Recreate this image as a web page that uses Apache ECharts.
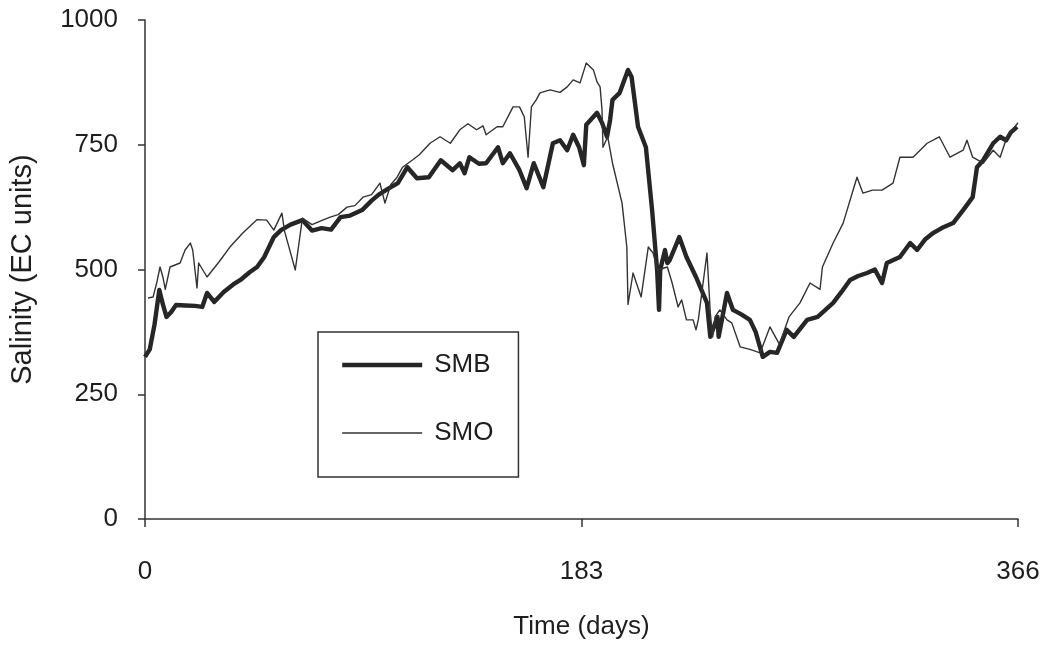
<!DOCTYPE html>
<html>
<head>
<meta charset="utf-8">
<script src="https://cdn.jsdelivr.net/npm/echarts@6/dist/echarts.min.js"></script>
<style>html,body{margin:0;padding:0;background:#fff;}#c{width:1051px;height:647px;}</style>
</head>
<body>
<div id="c"></div>
<script>
var xTicks = [0, 183, 366];
var yTicks = [0, 250, 500, 750, 1000];
var seriesNames = ['SMB', 'SMO'];

var smbDays = [0,2,4,6,7.5,9,11,13,17,21,24,26,29,33,37,40,44,47,50,54,57,61,66,70,74,78,82,86,91,95,98,102,106,110,114,119,124,129,132,134,136,140,143,148,150,153,157,160,163,167,171,174,177,179.5,182,184,185,189.5,191.6,193.7,195,196,199,202.5,204,206.7,210,212.6,214.7,215.5,216,218,219,220,224,227,231,235.6,237,240,240.5,244,246.5,250,253.6,256,259,262,265,269,272,277.6,282,288.5,292,295.6,299,302.7,306,309,311,316.5,320.8,323.7,327,330.4,334,338.8,343,347,348.8,351.4,355.6,358.5,361,363,365.6];
var smbValues = [325,340,390,459,430,405,415,429,428,427,425,453,435,455,470,479,495,505,525,565,579,590,599,578,583,580,605,608,619,638,650,662,673,705,683,685,719,699,713,693,725,712,713,745,713,733,699,663,713,665,753,759,739,770,745,709,790,814,794,766,800,840,854,900,886,786,745,619,499,419,499,539,513,519,565,525,485,433,365,405,365,453,419,410,399,375,325,335,333,379,365,399,405,433,455,479,487,493,500,473,513,525,553,539,560,573,583,593,619,645,705,719,753,766,759,775,786];

var smoDays = [1.3,3.4,5,6.3,7.5,8.5,10.5,14.7,16.8,19,20,21.8,22.5,26,31,35.6,41,47,51,54,57.4,58.5,63,66,70,74,77.6,81,84.7,88,91.4,95,98.5,100.6,103,105.7,108,112,115,119.5,123.7,128,132,135.4,139,141.7,143,147.6,150,154.3,157,159,160.6,162,164,165.6,169.8,174,177,179.5,182.4,185,188,189.5,190.8,191.6,192,194,196,200,202,202.5,204.6,208,211,213,215,219,221,223.5,225,227,229.8,231,232,235.6,237,238,239,241,244,246,249.5,253.6,257.9,262,266,270,274.6,278.8,283,284,288.5,292.7,298.5,301,305,309,313.6,316.5,322,327.9,333,337.5,343,344.6,347,351.4,355.6,358.5,361.4,366];
var smoValues = [443,445,475,505,485,460,505,513,539,553,539,463,513,485,515,545,573,600,599,579,613,577,499,603,590,598,605,610,625,628,645,650,673,633,670,685,705,719,730,753,766,753,780,792,780,788,770,786,786,826,826,806,725,826,840,854,860,855,866,880,874,914,900,876,866,820,745,766,713,633,545,430,493,445,545,533,499,505,473,425,439,399,399,379,400,533,413,365,405,419,399,393,345,340,333,385,350,405,433,473,460,505,553,593,685,653,659,659,673,725,725,753,766,725,739,759,725,713,739,725,766,794];

function pairs(d, v) { var o = []; for (var i = 0; i < d.length; i++) o.push([d[i], v[i]]); return o; }

var FONT = 'Liberation Sans, Arial, Helvetica, sans-serif';
var TXT = '#1e1e1e';
var AX = '#333';
var LINE_THICK = 4.4, LINE_THIN = 1.4;
function plain(v) { return String(v); }

var chart = echarts.init(document.getElementById('c'), null, {renderer: 'canvas'});
chart.setOption({
  animation: false,
  backgroundColor: '#fff',
  grid: {left: 145, right: 33, top: 20, bottom: 128, containLabel: false},
  legend: {
    orient: 'vertical', left: 318, top: 332,
    data: [
      {name: seriesNames[0], lineStyle: {width: LINE_THICK, color: '#262626'}},
      {name: seriesNames[1], lineStyle: {width: LINE_THIN, color: '#333'}}
    ],
    itemWidth: 80, itemHeight: 20, itemGap: 42,
    padding: [20, 25, 31, 22],
    borderColor: '#333', borderWidth: 1.5, borderRadius: 0,
    itemStyle: {opacity: 0, borderWidth: 0},
    textStyle: {fontSize: 26, color: TXT, fontFamily: FONT, padding: [0, 0, 0, 7]}
  },
  xAxis: {
    type: 'value', min: xTicks[0], max: xTicks[2], interval: xTicks[1] - xTicks[0],
    position: 'bottom',
    name: 'Time (days)', nameLocation: 'middle', nameGap: 95,
    nameTextStyle: {fontSize: 26, color: TXT, fontFamily: FONT},
    axisLine: {show: true, onZero: false, lineStyle: {color: AX, width: 1.5}},
    axisTick: {show: true, inside: false, length: 8, lineStyle: {color: AX, width: 1.5}},
    axisLabel: {fontSize: 26, color: TXT, fontFamily: FONT, margin: 40, formatter: plain},
    splitLine: {show: false}
  },
  yAxis: {
    type: 'value', min: yTicks[0], max: yTicks[4], interval: yTicks[1] - yTicks[0],
    position: 'left',
    name: 'Salinity (EC units)', nameLocation: 'middle', nameGap: 108,
    nameTextStyle: {fontSize: 29, color: TXT, fontFamily: FONT},
    axisLine: {show: true, onZero: false, lineStyle: {color: AX, width: 1.5}},
    axisTick: {show: true, inside: false, length: 7, lineStyle: {color: AX, width: 1.5}},
    axisLabel: {fontSize: 26, color: TXT, fontFamily: FONT, margin: 27, formatter: plain},
    splitLine: {show: false}
  },
  series: [{
    name: seriesNames[0], type: 'line',
    data: pairs(smbDays, smbValues),
    symbol: 'none', smooth: false,
    lineStyle: {color: '#262626', width: LINE_THICK, join: 'round'},
    itemStyle: {color: '#262626'},
    z: 3
  }, {
    name: seriesNames[1], type: 'line',
    data: pairs(smoDays, smoValues),
    symbol: 'none', smooth: false,
    lineStyle: {color: '#333', width: LINE_THIN, join: 'round'},
    itemStyle: {color: '#333'},
    z: 4
  }]
});
</script>
</body>
</html>
